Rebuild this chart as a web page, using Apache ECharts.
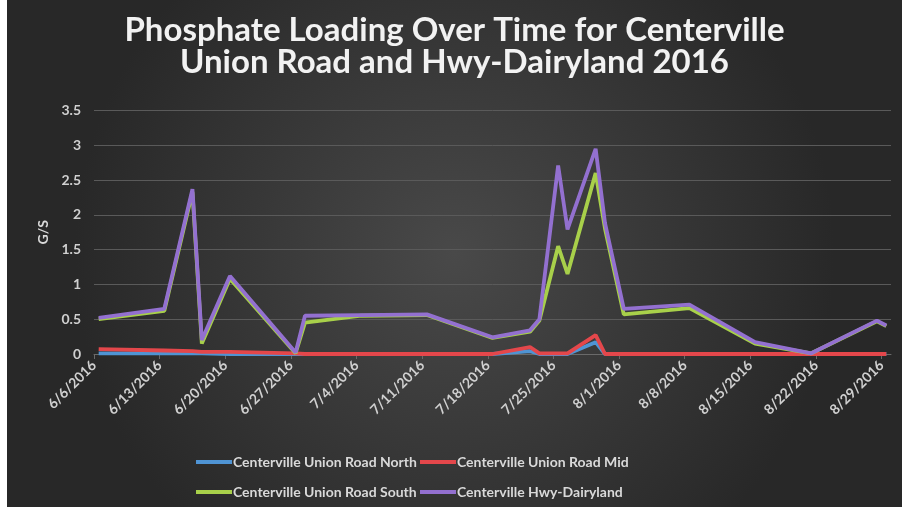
<!DOCTYPE html>
<html>
<head>
<meta charset="utf-8">
<script src="https://cdn.jsdelivr.net/npm/echarts@6/dist/echarts.min.js"></script>
<style>
html,body{margin:0;padding:0;background:#ffffff;width:902px;height:513px;overflow:hidden;}
#chart{position:absolute;left:7px;top:0;width:895px;height:507px;}
</style>
</head>
<body>
<div id="chart"></div>
<script>
// Sample dates
const dates = ['6/6/2016','6/13/2016','6/16/2016','6/17/2016','6/20/2016','6/27/2016','6/28/2016','7/4/2016','7/11/2016','7/18/2016','7/22/2016','7/23/2016','7/25/2016','7/26/2016','7/29/2016','7/30/2016','8/1/2016','8/8/2016','8/15/2016','8/21/2016','8/28/2016','8/29/2016'];
// Series values (G/S)
const northVals = [0.01,0.01,0.01,0.01,0,0,0,0,0,0,0.04,0,0,0,0.17,0,0,0,0,0,0,0];
const midVals   = [0.07,0.05,0.04,0.03,0.03,0.01,0,0,0,0,0.1,0.01,0.01,0.01,0.27,0,0,0,0,0,0,0];
const southVals = [0.5,0.62,2.33,0.15,1.08,0.01,0.45,0.55,0.56,0.23,0.32,0.48,1.55,1.15,2.6,1.8,0.57,0.66,0.15,0.01,0.47,0.4];
const hwyVals   = [0.52,0.65,2.37,0.2,1.12,0.02,0.55,0.56,0.57,0.24,0.34,0.5,2.71,1.79,2.95,1.88,0.65,0.71,0.17,0.01,0.48,0.41];
// Weekly tick labels
const xTickLabels = ['6/6/2016','6/13/2016','6/20/2016','6/27/2016','7/4/2016','7/11/2016','7/18/2016','7/25/2016','8/1/2016','8/8/2016','8/15/2016','8/22/2016','8/29/2016'];
const seriesNames = ['Centerville Union Road North','Centerville Union Road Mid','Centerville Union Road South','Centerville Hwy-Dairyland'];
const colors = ['#4f94d4','#e4474b','#a8d04a','#9370d0'];

function dayIndex(s){
  const p = s.split('/').map(Number);
  return Math.round((Date.UTC(p[2],p[0]-1,p[1]) - Date.UTC(2016,5,6)) / 86400000);
}
const xs = dates.map(d => dayIndex(d) + 0.5);
const pairs = vals => vals.map((v,i) => [xs[i], v]);

const font = 'Lato, "Open Sans", sans-serif';
const legendText = {color: '#d9d9d9', fontFamily: font, fontWeight: 'bold', fontSize: 14, padding: [0,0,0,-4]};
const chart = echarts.init(document.getElementById('chart'));
chart.setOption({
  animation: false,
  backgroundColor: {
    type: 'radial', x: 0.5, y: 0.5, r: 0.75,
    colorStops: [{offset: 0, color: '#494949'}, {offset: 1, color: '#282828'}]
  },
  color: colors,
  title: {
    text: 'Phosphate Loading Over Time for Centerville\nUnion Road and Hwy-Dairyland 2016',
    left: 'center', top: 9,
    textStyle: {color: '#f2f2f2', fontFamily: font, fontWeight: 'bold', fontSize: 33, lineHeight: 32}
  },
  grid: {left: 87, right: 11, top: 110.5, bottom: 153},
  legend: [
    {data: [seriesNames[0], seriesNames[2]], orient: 'vertical', left: 189, top: 455, itemGap: 16, padding: 0,
     itemWidth: 36, itemHeight: 4, icon: 'rect', itemStyle: {borderWidth: 0}, textStyle: legendText},
    {data: [seriesNames[1], seriesNames[3]], orient: 'vertical', left: 413, top: 455, itemGap: 16, padding: 0,
     itemWidth: 36, itemHeight: 4, icon: 'rect', itemStyle: {borderWidth: 0}, textStyle: legendText}
  ],
  xAxis: {
    type: 'value', min: 0, max: 85, interval: 7,
    axisLine: {show: true, lineStyle: {color: '#6a6a6a', width: 1}},
    axisTick: {show: true, length: 5, lineStyle: {color: '#6a6a6a'}},
    splitLine: {show: false},
    axisLabel: {
      rotate: 45, margin: 9, color: '#d0d0d0', fontFamily: font, fontWeight: 'bold', fontSize: 14,
      showMaxLabel: false,
      formatter: v => (v % 7 === 0 && v / 7 < xTickLabels.length) ? xTickLabels[v / 7] : ''
    }
  },
  yAxis: {
    type: 'value', min: 0, max: 3.5, interval: 0.5,
    name: 'G/S', nameLocation: 'middle', nameRotate: 90, nameGap: 44,
    nameTextStyle: {color: '#d9d9d9', fontFamily: font, fontWeight: 'bold', fontSize: 14},
    axisLine: {show: false}, axisTick: {show: false},
    splitLine: {lineStyle: {color: '#5a5a5a', width: 1}},
    axisLabel: {color: '#d0d0d0', fontFamily: font, fontWeight: 'bold', fontSize: 14, margin: 13}
  },
  series: [northVals, midVals, southVals, hwyVals].map((vals, i) => ({
    name: seriesNames[i], type: 'line', data: pairs(vals), showSymbol: false, symbol: 'none',
    lineStyle: {width: 3.8, color: colors[i]}, itemStyle: {color: colors[i]}
  }))
});
</script>
</body>
</html>
